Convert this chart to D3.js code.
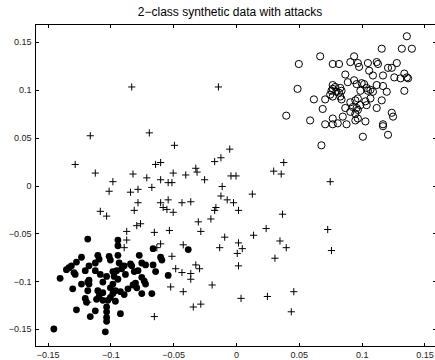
<!DOCTYPE html>
<html>
<head>
<meta charset="utf-8">
<script src="https://cdn.jsdelivr.net/npm/d3@7/dist/d3.min.js"></script>
<style>
	body { margin: 0; background: #fff; }
	svg { display: block; font-family: "Liberation Sans", Arial, Helvetica, sans-serif; }
</style>
</head>
<body>
<svg id="chart" width="435" height="360"></svg>
<script>
const title = '2−class synthetic data with attacks';

const xTicks = [-0.15, -0.1, -0.05, 0, 0.05, 0.1, 0.15];
const xTickLabels = ['−0.15', '−0.1', '−0.05', '0', '0.05', '0.1', '0.15'];
const yTicks = [-0.15, -0.1, -0.05, 0, 0.05, 0.1, 0.15];
const yTickLabels = ['−0.15', '−0.1', '−0.05', '0', '0.05', '0.1', '0.15'];

// class 1 (filled dots)
const class1 = [
	[-0.118, -0.056], [-0.094, -0.057], [-0.094, -0.063], [-0.066, -0.066], [-0.060, -0.075],
	[-0.059, -0.078], [-0.038, -0.067], [-0.123, -0.075], [-0.127, -0.080], [-0.110, -0.073],
	[-0.109, -0.077], [-0.101, -0.074], [-0.100, -0.078], [-0.094, -0.073], [-0.093, -0.081],
	[-0.089, -0.084], [-0.084, -0.082], [-0.083, -0.084], [-0.077, -0.073], [-0.075, -0.081],
	[-0.072, -0.083], [-0.066, -0.083], [-0.064, -0.090], [-0.054, -0.094], [-0.131, -0.084],
	[-0.133, -0.086], [-0.135, -0.088], [-0.129, -0.091], [-0.128, -0.093], [-0.120, -0.089],
	[-0.117, -0.084], [-0.112, -0.081], [-0.112, -0.089], [-0.108, -0.093], [-0.103, -0.095],
	[-0.098, -0.090], [-0.095, -0.089], [-0.097, -0.095], [-0.094, -0.098], [-0.091, -0.087],
	[-0.088, -0.093], [-0.081, -0.090], [-0.078, -0.089], [-0.075, -0.096], [-0.073, -0.100],
	[-0.072, -0.103], [-0.080, -0.102], [-0.082, -0.104], [-0.079, -0.107], [-0.086, -0.108],
	[-0.089, -0.114], [-0.092, -0.111], [-0.098, -0.103], [-0.100, -0.107], [-0.096, -0.110],
	[-0.098, -0.113], [-0.100, -0.117], [-0.106, -0.101], [-0.106, -0.112], [-0.110, -0.110],
	[-0.109, -0.116], [-0.111, -0.119], [-0.102, -0.120], [-0.106, -0.120], [-0.096, -0.121],
	[-0.117, -0.099], [-0.118, -0.101], [-0.117, -0.103], [-0.123, -0.103], [-0.130, -0.108],
	[-0.118, -0.110], [-0.140, -0.097], [-0.120, -0.118], [-0.119, -0.122], [-0.127, -0.130],
	[-0.116, -0.137], [-0.112, -0.131], [-0.103, -0.127], [-0.103, -0.132], [-0.103, -0.138],
	[-0.103, -0.142], [-0.092, -0.134], [-0.067, -0.113], [-0.075, -0.113], [-0.145, -0.150],
	[-0.104, -0.153]
];

// class 2 (open circles)
const class2 = [
	[0.136, 0.156], [0.116, 0.143], [0.132, 0.143], [0.140, 0.143], [0.067, 0.135],
	[0.094, 0.135], [0.050, 0.127], [0.077, 0.127], [0.082, 0.127], [0.091, 0.129],
	[0.097, 0.128], [0.098, 0.124], [0.105, 0.128], [0.112, 0.129], [0.113, 0.127],
	[0.121, 0.123], [0.124, 0.123], [0.128, 0.128], [0.087, 0.116], [0.106, 0.120],
	[0.109, 0.115], [0.117, 0.115], [0.126, 0.113], [0.131, 0.112], [0.134, 0.117],
	[0.136, 0.113], [0.137, 0.112], [0.077, 0.105], [0.079, 0.103], [0.077, 0.101],
	[0.076, 0.099], [0.083, 0.102], [0.084, 0.099], [0.089, 0.108], [0.096, 0.106],
	[0.102, 0.106], [0.104, 0.102], [0.105, 0.099], [0.107, 0.100], [0.099, 0.099],
	[0.112, 0.105], [0.109, 0.098], [0.117, 0.104], [0.120, 0.098], [0.134, 0.099],
	[0.049, 0.101], [0.062, 0.090], [0.071, 0.090], [0.075, 0.095], [0.082, 0.097],
	[0.084, 0.090], [0.091, 0.087], [0.093, 0.082], [0.097, 0.091], [0.099, 0.084],
	[0.103, 0.088], [0.112, 0.081], [0.116, 0.089], [0.095, 0.089], [0.124, 0.076],
	[0.125, 0.072], [0.069, 0.080], [0.077, 0.070], [0.077, 0.064], [0.081, 0.065],
	[0.088, 0.064], [0.095, 0.068], [0.091, 0.077], [0.097, 0.079], [0.085, 0.072],
	[0.097, 0.070], [0.103, 0.067], [0.071, 0.064], [0.059, 0.068], [0.040, 0.073],
	[0.117, 0.064], [0.117, 0.062], [0.121, 0.053], [0.101, 0.051], [0.068, 0.042],
	[0.096, 0.081], [0.100, 0.107], [0.083, 0.093], [0.077, 0.093], [0.080, 0.098],
	[0.107, 0.091], [0.104, 0.084], [0.087, 0.081], [0.095, 0.075], [0.094, 0.110]
];

// attacks (plus signs)
const attacks = [
	[-0.083, 0.103], [-0.014, 0.103], [-0.116, 0.052], [-0.069, 0.055], [-0.049, 0.042],
	[-0.005, 0.038], [-0.128, 0.022], [-0.112, 0.013], [-0.098, 0.004], [-0.101, -0.006],
	[-0.082, 0.012], [-0.084, -0.007], [-0.078, -0.004], [-0.071, 0.008], [-0.067, -0.002],
	[-0.064, 0.022], [-0.060, 0.024], [-0.060, 0.006], [-0.050, 0.013], [-0.054, 0.003],
	[-0.051, 0.003], [-0.040, 0.011], [-0.032, 0.018], [-0.031, 0.014], [-0.025, 0.006],
	[-0.017, 0.025], [-0.012, 0.029], [-0.011, -0.001], [-0.004, 0.010], [0.000, 0.010],
	[0.013, -0.009], [0.030, 0.015], [0.036, 0.012], [0.038, 0.024], [0.075, 0.004],
	[-0.108, -0.027], [-0.103, -0.032], [-0.081, -0.026], [-0.078, -0.018], [-0.060, -0.018],
	[-0.058, -0.023], [-0.055, -0.025], [-0.054, -0.015], [-0.050, -0.028], [-0.043, -0.018],
	[-0.036, -0.017], [-0.030, -0.038], [-0.028, -0.048], [-0.020, -0.035], [-0.017, -0.026],
	[-0.016, -0.023], [-0.012, -0.011], [-0.007, -0.015], [-0.002, -0.018], [0.002, -0.026],
	[0.037, -0.030], [-0.079, -0.042], [-0.076, -0.040], [-0.087, -0.048], [-0.065, -0.049],
	[-0.053, -0.047], [0.014, -0.052], [0.024, -0.045], [0.073, -0.046], [-0.009, -0.054],
	[-0.087, -0.057], [-0.089, -0.065], [-0.063, -0.065], [-0.060, -0.061], [-0.051, -0.074],
	[-0.042, -0.062], [-0.048, -0.087], [-0.043, -0.091], [-0.036, -0.092], [-0.032, -0.083],
	[-0.029, -0.087], [-0.036, -0.098], [-0.019, -0.104], [-0.052, -0.106], [-0.042, -0.111],
	[-0.034, -0.127], [-0.028, -0.124], [-0.065, -0.137], [-0.013, -0.065], [0.002, -0.060],
	[0.005, -0.066], [0.001, -0.071], [0.002, -0.084], [0.031, -0.076], [0.035, -0.058],
	[0.040, -0.065], [0.076, -0.068], [0.004, -0.118], [0.025, -0.116], [0.046, -0.111],
	[0.044, -0.132], [-0.118, -0.122]
];

const svg = d3.select('#chart');

const x = d3.scaleLinear().domain([-0.16, 0.16]).range([35, 437]);
const y = d3.scaleLinear().domain([-0.1685, 0.1685]).range([346.7, 24.3]);

const plotLeft = x.range()[0];
const plotRight = x.range()[1];
const plotTop = y.range()[1];
const plotBottom = y.range()[0];

// title
svg.append('text')
	.attr('x', 230)
	.attr('y', 16)
	.attr('text-anchor', 'middle')
	.attr('font-size', 12)
	.attr('fill', '#000')
	.text(title);

// box
svg.append('rect')
	.attr('x', plotLeft)
	.attr('y', plotTop)
	.attr('width', plotRight - plotLeft)
	.attr('height', plotBottom - plotTop)
	.attr('fill', 'none')
	.attr('stroke', '#000')
	.attr('stroke-width', 1)
	.attr('shape-rendering', 'crispEdges');

function styleAxis(g) {
	g.select('.domain').remove();
	g.selectAll('.tick line').attr('stroke', '#000').attr('shape-rendering', 'crispEdges');
	g.selectAll('.tick text').attr('fill', '#222').attr('font-size', 9);
}

svg.append('g')
	.attr('transform', `translate(0,${plotBottom})`)
	.call(d3.axisBottom(x).tickValues(xTicks)
		.tickFormat((d, i) => xTickLabels[i])
		.tickSizeInner(-4).tickSizeOuter(0).tickPadding(5))
	.call(styleAxis);

svg.append('g')
	.attr('transform', `translate(0,${plotTop})`)
	.call(d3.axisTop(x).tickValues(xTicks).tickFormat('')
		.tickSizeInner(-4).tickSizeOuter(0))
	.call(styleAxis);

svg.append('g')
	.attr('transform', `translate(${plotLeft},0)`)
	.call(d3.axisLeft(y).tickValues(yTicks)
		.tickFormat((d, i) => yTickLabels[i])
		.tickSizeInner(-4).tickSizeOuter(0).tickPadding(3.5))
	.call(styleAxis);

svg.append('g')
	.attr('transform', `translate(${plotRight},0)`)
	.call(d3.axisRight(y).tickValues(yTicks).tickFormat('')
		.tickSizeInner(-4).tickSizeOuter(0))
	.call(styleAxis);

const plot = svg.append('g');

plot.selectAll('circle.c1').data(class1).enter().append('circle')
	.attr('class', 'c1')
	.attr('cx', (d) => x(d[0]))
	.attr('cy', (d) => y(d[1]))
	.attr('r', 3.4)
	.attr('fill', '#000');

plot.selectAll('circle.c2').data(class2).enter().append('circle')
	.attr('class', 'c2')
	.attr('cx', (d) => x(d[0]))
	.attr('cy', (d) => y(d[1]))
	.attr('r', 3.6)
	.attr('fill', 'none')
	.attr('stroke', '#000')
	.attr('stroke-width', 1);

const plusSize = 3.6;
plot.selectAll('path.atk').data(attacks).enter().append('path')
	.attr('class', 'atk')
	.attr('d', (d) => {
		const cx = x(d[0]);
		const cy = y(d[1]);
		return `M${cx - plusSize},${cy}H${cx + plusSize}M${cx},${cy - plusSize}V${cy + plusSize}`;
	})
	.attr('fill', 'none')
	.attr('stroke', '#000')
	.attr('stroke-width', 1);
</script>
</body>
</html>
